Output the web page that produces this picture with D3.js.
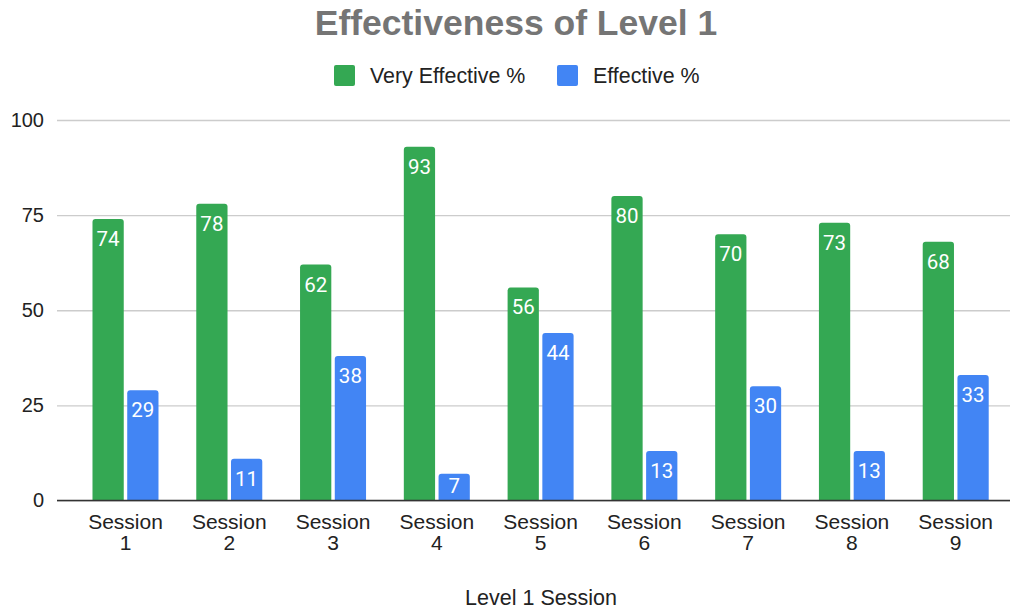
<!DOCTYPE html>
<html>
<head>
<meta charset="utf-8">
<script src="https://cdn.jsdelivr.net/npm/d3@7/dist/d3.min.js"></script>
<style>
  html, body { margin: 0; padding: 0; background: #fff; }
  svg { display: block; }
  text { font-family: "Liberation Sans", Arial, sans-serif; }
  text.val { font-family: Roboto, "Noto Sans", sans-serif; }
</style>
</head>
<body>
<svg id="chart" width="1016" height="610"></svg>
<script>
const categories = ["Session 1", "Session 2", "Session 3", "Session 4", "Session 5", "Session 6", "Session 7", "Session 8", "Session 9"];
const seriesNames = ["Very Effective %", "Effective %"];
const veryEffective = [74, 78, 62, 93, 56, 80, 70, 73, 68];
const effective = [29, 11, 38, 7, 44, 13, 30, 13, 33];
const yTicks = [0, 25, 50, 75, 100];
const colors = ["#34A853", "#4285F4"];
const title = "Effectiveness of Level 1";
const xTitle = "Level 1 Session";

const series = [veryEffective, effective];
const data = categories.map((c, i) => ({ cat: c, values: series.map((s, j) => ({ key: seriesNames[j], v: s[i], j })) }));

const svg = d3.select("#chart");
const plotLeft = 57, plotRight = 1010;

const x = d3.scaleBand().domain(categories).range([73.6, 1007.6]).paddingInner(0).paddingOuter(0);
const xi = d3.scaleBand().domain(seriesNames).range([x.bandwidth()/2 - 33, x.bandwidth()/2 + 33]).paddingInner(0.1);
const y = d3.scaleLinear().domain([0, 100]).range([500.5, 120]);

// title
svg.append("text").attr("x", 516).attr("y", 35).attr("text-anchor", "middle")
  .attr("font-size", 35.5).attr("font-weight", "bold").attr("fill", "#757575").text(title);

// legend
const legend = svg.append("g");
const legendItems = [{x: 334, tx: 370}, {x: 557, tx: 593}];
seriesNames.forEach((n, i) => {
  legend.append("rect").attr("x", legendItems[i].x).attr("y", 65).attr("width", 21).attr("height", 21)
    .attr("rx", 2).attr("fill", colors[i]);
  legend.append("text").attr("x", legendItems[i].tx).attr("y", 83).attr("font-size", 21.4)
    .attr("fill", "#222").text(n);
});

// gridlines + y ticks
const yAxis = d3.axisLeft(y).tickValues(yTicks).tickSize(-(plotRight - plotLeft)).tickPadding(13);
const gy = svg.append("g").attr("transform", `translate(${plotLeft},0)`).call(yAxis);
gy.select(".domain").remove();
gy.selectAll(".tick line").attr("stroke", "#cccccc").attr("stroke-width", 1.3);
gy.selectAll(".tick text").attr("font-size", 20).attr("fill", "#222")
  .attr("font-family", "'Liberation Sans', Arial, sans-serif");

// bars
const groups = svg.append("g").selectAll("g").data(data).join("g")
  .attr("transform", d => `translate(${x(d.cat)},0)`);

function topRounded(x0, y0, w, h, r) {
  r = Math.min(r, h);
  return `M${x0},${y0 + h}V${y0 + r}Q${x0},${y0} ${x0 + r},${y0}H${x0 + w - r}Q${x0 + w},${y0} ${x0 + w},${y0 + r}V${y0 + h}Z`;
}

groups.selectAll("path").data(d => d.values).join("path")
  .attr("d", d => topRounded(xi(d.key), y(d.v), xi.bandwidth(), y(0) - y(d.v), 3))
  .attr("fill", d => colors[d.j]);

groups.selectAll("text.val").data(d => d.values).join("text").attr("class", "val")
  .attr("x", d => xi(d.key) + xi.bandwidth() / 2)
  .attr("y", d => Math.min(y(d.v) + 27, y(0) - 7.5))
  .attr("text-anchor", "middle").attr("font-size", 20.5).attr("fill", "#fff")
  .text(d => d.v);

// baseline
svg.append("line").attr("x1", plotLeft).attr("x2", plotRight).attr("y1", y(0)).attr("y2", y(0))
  .attr("stroke", "#333").attr("stroke-width", 1.5);

// x labels (two lines each)
const xg = svg.append("g");
xg.selectAll("text.l1").data(categories).join("text").attr("class", "l1")
  .attr("x", d => x(d) + x.bandwidth() / 2).attr("y", 529).attr("text-anchor", "middle")
  .attr("font-size", 21).attr("fill", "#222").text(d => d.split(" ")[0]);
xg.selectAll("text.l2").data(categories).join("text").attr("class", "l2")
  .attr("x", d => x(d) + x.bandwidth() / 2).attr("y", 550).attr("text-anchor", "middle")
  .attr("font-size", 21).attr("fill", "#222").text(d => d.split(" ")[1]);

// x title
svg.append("text").attr("x", 541).attr("y", 605).attr("text-anchor", "middle")
  .attr("font-size", 21.5).attr("fill", "#222").text(xTitle);
</script>
</body>
</html>
